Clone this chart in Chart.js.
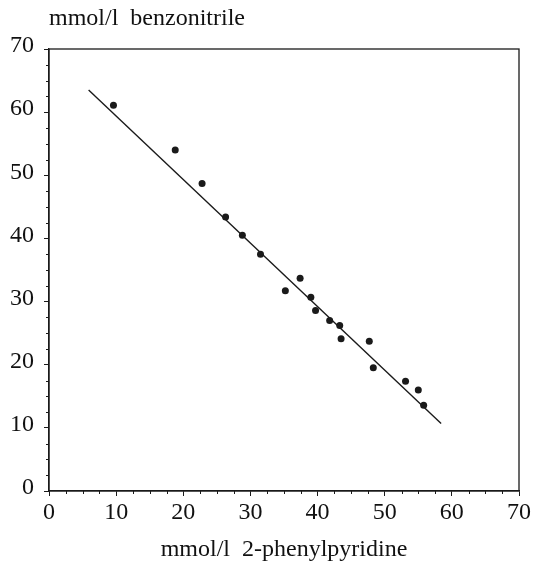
<!DOCTYPE html>
<html>
<head>
<meta charset="utf-8">
<script src="https://cdn.jsdelivr.net/npm/chart.js@4.4.1/dist/chart.umd.min.js"></script>
<style>
  html, body { margin: 0; padding: 0; background: #fff; }
  #wrap { position: relative; width: 533px; height: 561px; }
</style>
</head>
<body>
<div id="wrap"><canvas id="scatterChart"></canvas></div>
<script>
// measured points (2-phenylpyridine vs benzonitrile, mmol/l)
var phenylpyridine = [9.6, 18.8, 22.8, 26.3, 28.8, 31.5, 35.2, 37.4, 39.0, 39.7, 41.8, 43.3, 43.5, 47.7, 48.3, 53.1, 55.0, 55.8];
var benzonitrile   = [61.1, 54.0, 48.7, 43.4, 40.5, 37.5, 31.7, 33.7, 30.7, 28.6, 27.0, 26.2, 24.1, 23.7, 19.5, 17.4, 16.0, 13.6];

// regression line end points
var fitX = [5.9, 58.4];
var fitY = [63.5, 10.7];

var xTitle = 'mmol/l  2-phenylpyridine';
var yTitle = 'mmol/l  benzonitrile';

Chart.defaults.font.family = "'Liberation Serif', 'Times New Roman', serif";
Chart.defaults.color = '#111';

var ink = '#1a1a1a';

function toPoints(xs, ys) {
    return xs.map(function (x, i) { return { x: x, y: ys[i] }; });
}

// frame, minor ticks and the y title at the top
var framePlugin = {
    id: 'frame',
    afterDraw: function (chart) {
        var ctx = chart.ctx, a = chart.chartArea;
        var sx = chart.scales.x, sy = chart.scales.y;
        ctx.save();
        ctx.strokeStyle = ink;
        ctx.lineWidth = 1.3;
        ctx.strokeRect(a.left, a.top, a.right - a.left, a.bottom - a.top);

        ctx.lineWidth = 1;
        ctx.beginPath();
        for (var v = 2.5; v < 70; v += 2.5) {
            if (v % 10 === 0) continue;
            var px = Math.round(sx.getPixelForValue(v)) + 0.5;
            ctx.moveTo(px, a.bottom);
            ctx.lineTo(px, a.bottom + 3);
            var py = Math.round(sy.getPixelForValue(v)) + 0.5;
            ctx.moveTo(a.left, py);
            ctx.lineTo(a.left - 3, py);
        }
        ctx.stroke();

        ctx.fillStyle = '#111';
        ctx.font = "24px 'Liberation Serif', serif";
        ctx.textAlign = 'left';
        ctx.textBaseline = 'alphabetic';
        ctx.fillText(yTitle, a.left, 25);
        ctx.restore();
    }
};

new Chart(document.getElementById('scatterChart').getContext('2d'), {
    type: 'scatter',
    data: {
        datasets: [
            {
                label: 'measured', data: toPoints(phenylpyridine, benzonitrile),
                backgroundColor: ink, borderColor: ink, pointRadius: 3.5, pointBorderWidth: 0
            },
            {
                type: 'line', label: 'fit', data: toPoints(fitX, fitY),
                borderColor: ink, borderWidth: 1.4, pointRadius: 0, fill: false, tension: 0
            }
        ]
    },
    options: {
        responsive: true, maintainAspectRatio: false, animation: false,
        layout: { padding: { top: 49, right: 13, left: 0, bottom: 0 } },
        plugins: { legend: { display: false }, tooltip: { enabled: false } },
        scales: {
            x: {
                type: 'linear', min: 0, max: 70,
                ticks: { stepSize: 10, padding: 2, font: { size: 24 }, color: '#111' },
                grid: { drawOnChartArea: false, tickLength: 5, color: ink, tickWidth: 1 },
                border: { display: true, color: ink, width: 1.3 },
                title: { display: true, text: xTitle, font: { size: 24 }, color: '#111', padding: { top: 0, bottom: -3 } },
                afterFit: function (s) { s.height = 70; }
            },
            y: {
                type: 'linear', min: 0, max: 70,
                ticks: { stepSize: 10, padding: 10, labelOffset: -3, font: { size: 24 }, color: '#111' },
                grid: { drawOnChartArea: false, tickLength: 5, color: ink, tickWidth: 1 },
                border: { display: true, color: ink, width: 1.3 },
                afterFit: function (s) { s.width = 49; }
            }
        }
    },
    plugins: [framePlugin]
});
</script>
</body>
</html>
